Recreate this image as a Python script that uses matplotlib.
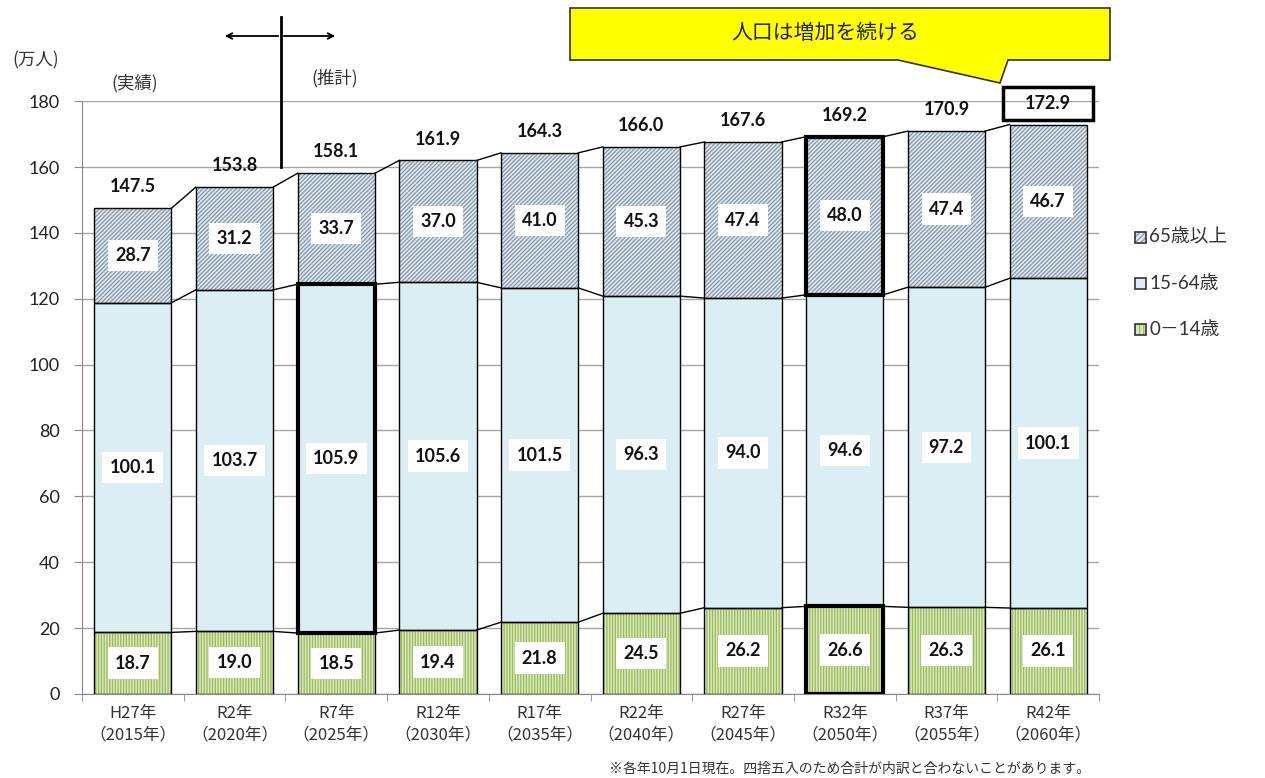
import matplotlib
matplotlib.use("Agg")
import matplotlib.pyplot as plt
import numpy as np
from matplotlib.patches import Rectangle, Polygon

plt.rcParams['font.family'] = ['Lato', 'Noto Sans CJK JP', 'DejaVu Sans']
plt.rcParams['hatch.linewidth'] = 0.9

categories = ["H27年\n（2015年）", "R2年\n（2020年）", "R7年\n（2025年）", "R12年\n（2030年）",
              "R17年\n（2035年）", "R22年\n（2040年）", "R27年\n（2045年）", "R32年\n（2050年）",
              "R37年\n（2055年）", "R42年\n（2060年）"]
age_0_14 = [18.7, 19.0, 18.5, 19.4, 21.8, 24.5, 26.2, 26.6, 26.3, 26.1]
age_15_64 = [100.1, 103.7, 105.9, 105.6, 101.5, 96.3, 94.0, 94.6, 97.2, 100.1]
age_65_plus = [28.7, 31.2, 33.7, 37.0, 41.0, 45.3, 47.4, 48.0, 47.4, 46.7]
totals = [147.5, 153.8, 158.1, 161.9, 164.3, 166.0, 167.6, 169.2, 170.9, 172.9]
legend_labels = ["65歳以上", "15-64歳", "0－14歳"]
y_ticks = [0, 20, 40, 60, 80, 100, 120, 140, 160, 180]

CJK = ['Noto Sans CJK JP', 'DejaVu Sans']

fig = plt.figure(figsize=(12.65, 7.78), dpi=100)
ax = fig.add_axes([0.0648, 0.108, 0.804, 0.762])

x = np.arange(len(categories))
w = 0.76
a = np.array(age_0_14)
b = np.array(age_15_64)
c = np.array(age_65_plus)

GREEN_BG, GREEN_HATCH = "#dbe7be", "#98ba57"
BLUE_BG = "#daeef3"
GREY_BG, GREY_HATCH = "#dfe7ef", "#8598ab"

# fills with hatching
ax.bar(x, a, w, color=GREEN_BG, edgecolor=GREEN_HATCH, hatch="||||||", linewidth=0, zorder=2)
ax.bar(x, b, w, bottom=a, color=BLUE_BG, linewidth=0, zorder=2)
ax.bar(x, c, w, bottom=a + b, color=GREY_BG, edgecolor=GREY_HATCH, hatch="////////", linewidth=0, zorder=2)
# outlines
ax.bar(x, a, w, fill=False, edgecolor="black", linewidth=1.0, zorder=3)
ax.bar(x, b, w, bottom=a, fill=False, edgecolor="black", linewidth=1.0, zorder=3)
ax.bar(x, c, w, bottom=a + b, fill=False, edgecolor="black", linewidth=1.0, zorder=3)

# emphasised segments
def frame(i, bottom, height):
    ax.add_patch(Rectangle((x[i] - w / 2, bottom), w, height, fill=False,
                           edgecolor="black", linewidth=3.0, zorder=4))

frame(2, a[2], b[2])
frame(7, a[7] + b[7], c[7])
frame(7, 0, a[7])

# series lines between adjacent bars
for level in (a, a + b, a + b + c):
    for i in range(len(x) - 1):
        ax.plot([x[i] + w / 2, x[i + 1] - w / 2], [level[i], level[i + 1]],
                color="black", linewidth=1.0, zorder=3)

# value labels
box = dict(boxstyle="square,pad=0.4", facecolor="white", edgecolor="none")
lab = dict(ha="center", va="center", fontsize=13, fontweight="bold", color="#111111", zorder=5)
for i in range(len(x)):
    ax.text(x[i], a[i] / 2, f"{age_0_14[i]:.1f}", bbox=box, **lab)
    ax.text(x[i], a[i] + b[i] / 2, f"{age_15_64[i]:.1f}", bbox=box, **lab)
    ax.text(x[i], a[i] + b[i] + c[i] / 2, f"{age_65_plus[i]:.1f}", bbox=box, **lab)
    top = a[i] + b[i] + c[i]
    ax.text(x[i], top + 6.5, f"{totals[i]:.1f}", **lab)

# frame round the final total
last = len(x) - 1
ax.add_patch(Rectangle((x[last] - 0.445, a[last] + b[last] + c[last] + 1.5), 0.89, 10.0,
                       fill=False, edgecolor="black", linewidth=2.5, clip_on=False, zorder=5))

ax.set_xlim(-0.5, len(x) - 0.5)
ax.set_ylim(0, 180)
ax.set_yticks(y_ticks)
ax.set_yticklabels([str(t) for t in y_ticks], fontsize=13, color="#222222")
ax.yaxis.grid(True, color="#a6a6a6", linewidth=1.0, zorder=0)
ax.set_axisbelow(True)
ax.set_xticks(x)
ax.set_xticklabels(categories, fontsize=12, color="#333333", linespacing=1.3, family=CJK)
ax.set_xticks(np.arange(-0.5, len(x), 1.0), minor=True)
ax.tick_params(axis="x", which="major", length=0, pad=8)
ax.tick_params(axis="x", which="minor", length=5, color="#888888", direction="out")
ax.tick_params(axis="y", length=6, color="#888888", direction="out", pad=10)
for side in ("top", "right"):
    ax.spines[side].set_visible(False)
ax.spines["left"].set_color("#888888")
ax.spines["bottom"].set_color("#888888")

W, H = 1265, 778

# unit and period annotations
fig.text(36 / W, 1 - 60 / H, "(万人)", ha="center", va="center", fontsize=12.5, color="#333333", family=CJK)
fig.text(135 / W, 1 - 83 / H, "(実績)", ha="center", va="center", fontsize=12.5, color="#333333", family=CJK)
fig.text(335 / W, 1 - 78 / H, "(推計)", ha="center", va="center", fontsize=12.5, color="#333333", family=CJK)

# boundary between actual and projected values
fig.add_artist(plt.Line2D([281 / W, 281 / W], [1 - 17 / H, 1 - 167 / H],
                          color="black", linewidth=2.0, transform=fig.transFigure))
for x_end in (222, 338):
    ax.annotate("", xy=(x_end / W, 1 - 36 / H), xytext=(281 / W, 1 - 36 / H),
                xycoords="figure fraction", textcoords="figure fraction",
                arrowprops=dict(arrowstyle="->", color="black", lw=1.3))

# callout
pts = [(570, 8), (1110, 8), (1110, 60), (1008, 60), (1000, 83), (898, 60), (570, 60)]
callout = Polygon([(px / W, 1 - py / H) for px, py in pts], closed=True,
                  facecolor="#ffff00", edgecolor="#333333", linewidth=1.2,
                  transform=fig.transFigure)
fig.add_artist(callout)
fig.text(825 / W, 1 - 33 / H, "人口は増加を続ける", ha="center", va="center", fontsize=15,
         color="#222222", family=CJK)

# legend
leg_items = [(GREY_BG, GREY_HATCH, "//////"), (BLUE_BG, None, None), (GREEN_BG, GREEN_HATCH, "||||")]
for k, (label, (fc, hc, hatch)) in enumerate(zip(legend_labels, leg_items)):
    yc = [237, 283, 329][k]
    s = 11
    fig.add_artist(Rectangle(((1140 - s / 2) / W, 1 - (yc + s / 2) / H), s / W, s / H,
                             facecolor=fc, edgecolor=hc if hc else fc, hatch=hatch, linewidth=0,
                             transform=fig.transFigure))
    fig.add_artist(Rectangle(((1140 - s / 2) / W, 1 - (yc + s / 2) / H), s / W, s / H,
                             fill=False, edgecolor="#333333", linewidth=1.2,
                             transform=fig.transFigure))
    fig.text(1149 / W, 1 - yc / H, label, ha="left", va="center", fontsize=13.5,
             color="#333333", family=['Lato', 'Noto Sans CJK JP'])

fig.text(1090 / W, 1 - 769 / H, "※各年10月1日現在。四捨五入のため合計が内訳と合わないことがあります。",
         ha="right", va="center", fontsize=10, color="#333333", family=CJK)

fig.savefig("out.png", dpi=100, facecolor="white")
